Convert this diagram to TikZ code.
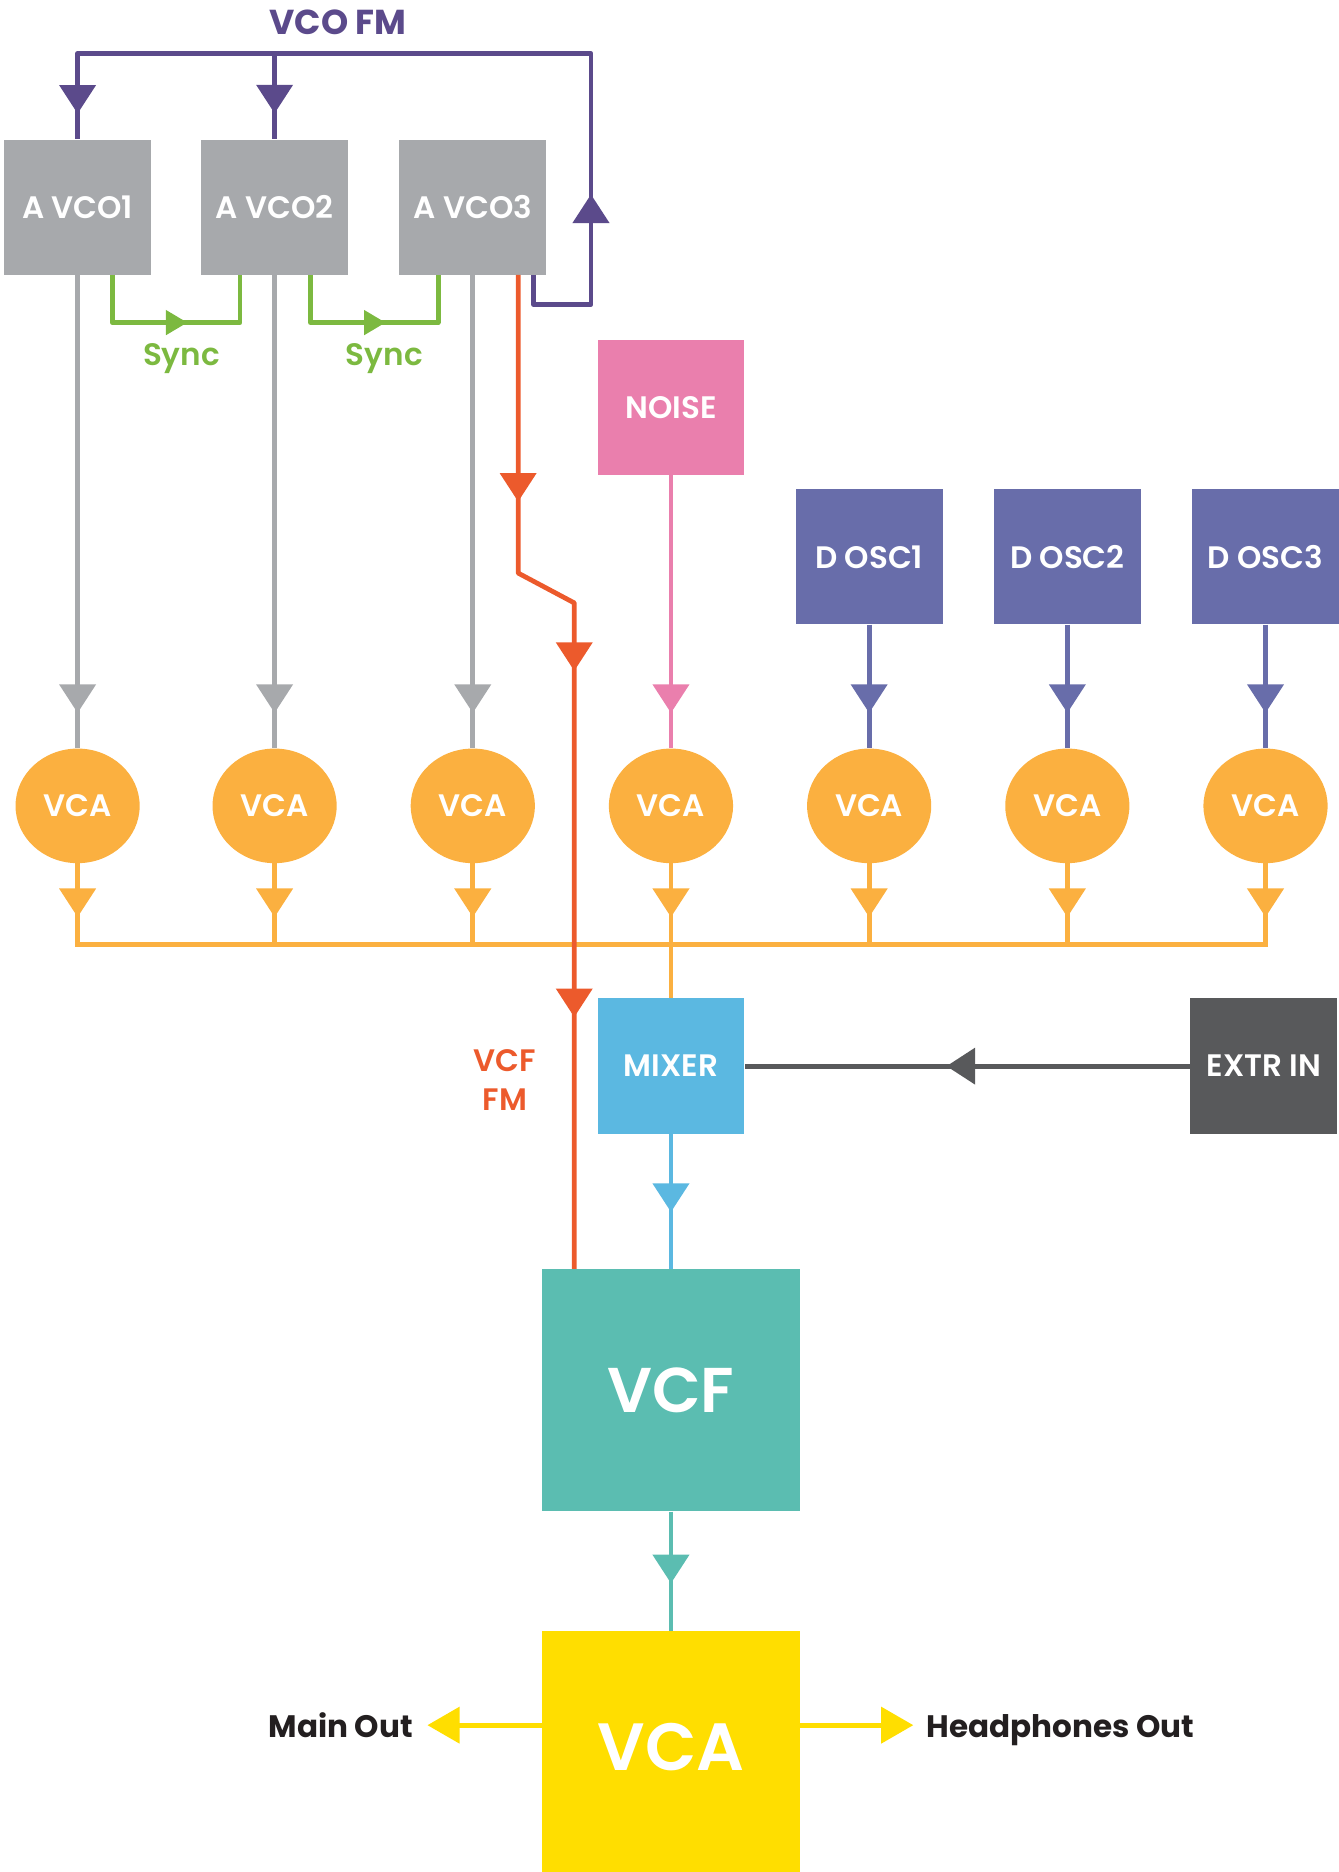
\documentclass[tikz,border=0pt]{standalone}
\usepackage{fontspec}
\setmainfont{Poppins}[UprightFont=*-SemiBold,BoldFont=*-Bold]
\usetikzlibrary{arrows.meta,shapes.geometric,decorations.markings}
\definecolor{cfm}{HTML}{5B4A8B}
\definecolor{cgrey}{HTML}{A7A9AC}
\definecolor{cgreen}{HTML}{7CB940}
\definecolor{corg}{HTML}{EC5A2C}
\definecolor{cpink}{HTML}{EA7FAD}
\definecolor{cdosc}{HTML}{686DAA}
\definecolor{camb}{HTML}{FBB040}
\definecolor{cmix}{HTML}{5BB8E1}
\definecolor{cext}{HTML}{58595B}
\definecolor{cvcf}{HTML}{5BBDB1}
\definecolor{cyel}{HTML}{FFDE00}
\definecolor{ctxt}{HTML}{231F20}
\begin{document}
\begin{tikzpicture}[x=1pt,y=-1pt,
  lbl/.style={font=\fontsize{26}{33}\selectfont, inner sep=0pt},
  box/.style={rectangle, minimum width=123pt, minimum height=113pt, inner sep=0pt, text=white, font=\fontsize{26}{30}\selectfont},
  vcab/.style={ellipse, fill=camb, minimum width=104pt, minimum height=96pt, inner sep=0pt, text=white, font=\fontsize{26}{30}\selectfont},
  wire/.style={line width=4pt, line join=round},
  tipat/.style={postaction={decorate,decoration={markings,mark=at position #1 with {\arrow{Triangle[width=30pt,length=24pt]}}}}},
  smalltip/.style={postaction={decorate,decoration={markings,mark=at position #1 with {\arrow{Triangle[width=20pt,length=18pt]}}}}},
]
\useasboundingbox (0,0) rectangle (1121,1568);

% boxes
\node[box, fill=cgrey] (vco1) at (65,173.5) {A VCO1};
\node[box, fill=cgrey] (vco2) at (230,173.5) {A VCO2};
\node[box, fill=cgrey] (vco3) at (396,173.5) {A VCO3};
\node[box, fill=cpink] (noise) at (562,341.5) {NOISE};
\node[box, fill=cdosc] (dosc1) at (728,466.5) {D OSC1};
\node[box, fill=cdosc] (dosc2) at (894,466.5) {D OSC2};
\node[box, fill=cdosc] (dosc3) at (1060,466.5) {D OSC3};
\foreach \i/\x in {1/65,2/230,3/396,4/562,5/728,6/894,7/1060}
  \node[vcab] (vca\i) at (\x,675) {VCA};
\node[box, fill=cmix, minimum height=114pt] (mixer) at (562,893) {MIXER};
\node[box, fill=cext, minimum height=114pt] (extr) at (1058.5,893) {EXTR IN};
\node[box, fill=cvcf, minimum width=216pt, minimum height=203pt, font=\fontsize{53}{60}\selectfont] (vcf) at (562,1164.5) {VCF};
\node[box, fill=cyel, minimum width=216pt, minimum height=202pt, text depth=8pt, font=\fontsize{56}{66}\selectfont] (vcaout) at (562,1467) {VCA};

% coordinates
\coordinate (p1) at (447,255);
\coordinate (p2) at (495,255);
\coordinate (p3) at (495,45);
\coordinate (o1) at (434,480);
\coordinate (o2) at (481,505);
\coordinate (busL) at (65,791);
\coordinate (busR) at (1060,791);
\coordinate (mainout) at (358,1445);
\coordinate (headout) at (765,1445);

% VCO FM (purple)
\draw[wire, color=cfm, tipat=165pt, tipat=763pt] ([xshift=51pt]vco3.south) -- (p1) -- (p2) -- (p3) -- (vco1.north |- p3) -- (vco1.north);
\draw[wire, color=cfm, tipat=50pt] (vco2.north |- p3) -- (vco2.north);

% Sync (green)
\draw[wire, color=cgreen, smalltip=103pt] ([xshift=29pt]vco1.south) -- ++(0,40) -| ([xshift=-29pt]vco2.south);
\draw[wire, color=cgreen, smalltip=103pt] ([xshift=30pt]vco2.south) -- ++(0,40) -| ([xshift=-29pt]vco3.south);

% grey to VCAs
\foreach \i in {1,2,3}
  \draw[wire, color=cgrey, tipat=367pt] (vco\i.south) -- (vca\i.north);
\draw[wire, color=cpink, tipat=199pt] (noise.south) -- (vca4.north);
\draw[wire, color=cdosc, tipat=74pt] (dosc1.south) -- (vca5.north);
\draw[wire, color=cdosc, tipat=74pt] (dosc2.south) -- (vca6.north);
\draw[wire, color=cdosc, tipat=74pt] (dosc3.south) -- (vca7.north);

% VCA outputs and bus
\foreach \i in {1,...,7}
  \draw[wire, color=camb, tipat=45pt] (vca\i.south) -- (vca\i.south |- busL);
\draw[wire, color=camb, line cap=rect] (busL) -- (busR);
\draw[wire, color=camb] (mixer.north |- busL) -- (mixer.north);

% VCF FM (orange)
\draw[wire, color=corg, tipat=190pt, tipat=360pt, tipat=650pt] ([xshift=38pt]vco3.south) -- (o1) -- (o2) -- (vcf.north -| o2);

% extr in
\draw[wire, color=cext, tipat=204pt] (extr.west) -- (mixer.east);
\draw[wire, color=cmix, tipat=65pt] (mixer.south) -- (vcf.north);
\draw[wire, color=cvcf, tipat=60pt] (vcf.south) -- (vcaout.north);

% outputs
\draw[wire, color=cyel, -{Triangle[width=30pt,length=27pt]}] (vcaout.west |- mainout) -- (mainout);
\draw[wire, color=cyel, -{Triangle[width=30pt,length=27pt]}] (vcaout.east |- headout) -- (headout);

% labels
\node[lbl, text=cfm, anchor=base, font=\fontsize{29}{33}\selectfont] (lvcofm) at (283,29) {\bfseries VCO FM};
\node[lbl, text=cgreen, anchor=base] (lsync1) at (152,306) {Sync};
\node[lbl, text=cgreen, anchor=base] (lsync2) at (322,306) {Sync};
\node[lbl, text=corg, align=center] (lvcffm) at (423,904.5) {VCF\\FM};
\node[lbl, text=ctxt, anchor=base east] (lmain) at (346,1455) {\bfseries Main Out};
\node[lbl, text=ctxt, anchor=base west] (lhead) at (776,1455) {\bfseries Headphones Out};
\end{tikzpicture}
\end{document}
